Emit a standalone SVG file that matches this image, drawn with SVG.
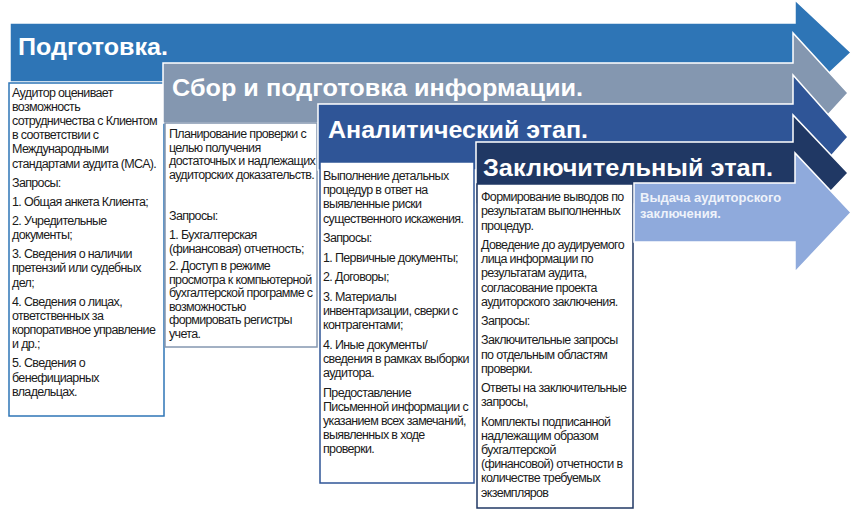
<svg xmlns="http://www.w3.org/2000/svg" width="856" height="523" viewBox="0 0 856 523">
<style>
.arrow{stroke:#ffffff;stroke-width:1.5;stroke-linejoin:miter}
.title{font-family:"Liberation Sans",Arial,sans-serif;font-weight:bold;fill:#ffffff;font-size:24px}
.box{fill:#ffffff;stroke-width:1.5}
.t{font-family:"Liberation Sans",Arial,sans-serif;font-size:12.5px;fill:#1a1a1a;letter-spacing:-0.65px}
.out{font-family:"Liberation Sans",Arial,sans-serif;font-weight:bold;font-size:13px;fill:#eef2fa}
</style>
<rect width="856" height="523" fill="#ffffff"/>
<g id="connectors"></g>
<g id="stage1">
<polygon class="arrow" fill="#2E75B6" points="10,23 795,23 795,0 851,52.5 795,105 795,82 10,82"/>
<text class="title" x="18" y="55" textLength="150" lengthAdjust="spacingAndGlyphs">Подготовка.</text>
</g>
<g id="box1">
<rect class="box" stroke="#2E75B6" x="9" y="83" width="155" height="333"/>
<text class="t" x="12">
<tspan x="12" y="97">Аудитор оценивает</tspan>
<tspan x="12" y="111">возможность</tspan>
<tspan x="12" y="125">сотрудничества с Клиентом</tspan>
<tspan x="12" y="139">в соответствии  с</tspan>
<tspan x="12" y="153">Международными</tspan>
<tspan x="12" y="168">стандартами аудита (МСА).</tspan>
<tspan x="12" y="187">Запросы:</tspan>
<tspan x="12" y="206">1. Общая анкета Клиента;</tspan>
<tspan x="12" y="225">2. Учредительные</tspan>
<tspan x="12" y="239">документы;</tspan>
<tspan x="12" y="258">3. Сведения о наличии</tspan>
<tspan x="12" y="272">претензий или судебных</tspan>
<tspan x="12" y="287">дел;</tspan>
<tspan x="12" y="306">4. Сведения о лицах,</tspan>
<tspan x="12" y="320">ответственных  за</tspan>
<tspan x="12" y="334">корпоративное управление</tspan>
<tspan x="12" y="348">и др.;</tspan>
<tspan x="12" y="367">5. Сведения о</tspan>
<tspan x="12" y="382">бенефициарных</tspan>
<tspan x="12" y="396">владельцах.</tspan>
</text>
</g>
<g id="stage2">
<polygon class="arrow" fill="#8497B0" points="163,63 793,63 793,33 848,93 793,153 793,123 163,123"/>
<text class="title" x="172" y="96" textLength="411" lengthAdjust="spacingAndGlyphs">Сбор и подготовка информации.</text>
</g>
<g id="box2">
<rect class="box" stroke="#8497B0" x="165" y="123" width="152" height="224"/>
<text class="t">
<tspan x="169" y="138">Планирование проверки с</tspan>
<tspan x="169" y="151.5">целью получения</tspan>
<tspan x="169" y="165">достаточных  и надлежащих</tspan>
<tspan x="169" y="178.5">аудиторских доказательств.</tspan>
<tspan x="169" y="220">Запросы:</tspan>
<tspan x="169" y="239">1. Бухгалтерская</tspan>
<tspan x="169" y="252.5">(финансовая) отчетность;</tspan>
<tspan x="169" y="270">2. Доступ в режиме</tspan>
<tspan x="169" y="283.5">просмотра к компьютерной</tspan>
<tspan x="169" y="297">бухгалтерской программе с</tspan>
<tspan x="169" y="310.5">возможностью</tspan>
<tspan x="169" y="324">формировать регистры</tspan>
<tspan x="169" y="337.5">учета.</tspan>
</text>
</g>
<g id="stage3">
<polygon class="arrow" fill="#2F5597" points="318,104 793,104 793,75 848,137 793,199 793,170 318,170"/>
<text class="title" x="328" y="138" textLength="260" lengthAdjust="spacingAndGlyphs">Аналитический этап.</text>
</g>
<g id="box3">
<rect class="box" stroke="#2F5597" x="320" y="162" width="154" height="321"/>
<text class="t">
<tspan x="323" y="180">Выполнение детальных</tspan>
<tspan x="323" y="194">процедур в ответ на</tspan>
<tspan x="323" y="208">выявленные риски</tspan>
<tspan x="323" y="222.5">существенного искажения.</tspan>
<tspan x="323" y="242">Запросы:</tspan>
<tspan x="323" y="261.5">1. Первичные документы;</tspan>
<tspan x="323" y="281">2. Договоры;</tspan>
<tspan x="323" y="300.5">3. Материалы</tspan>
<tspan x="323" y="314.5">инвентаризации, сверки с</tspan>
<tspan x="323" y="329">контрагентами;</tspan>
<tspan x="323" y="348.5">4. Иные документы/</tspan>
<tspan x="323" y="362.5">сведения в рамках выборки</tspan>
<tspan x="323" y="377">аудитора.</tspan>
<tspan x="323" y="396.5">Предоставление</tspan>
<tspan x="323" y="410.5">Письменной информации с</tspan>
<tspan x="323" y="425">указанием всех замечаний,</tspan>
<tspan x="323" y="439">выявленных в ходе</tspan>
<tspan x="323" y="453">проверки.</tspan>
</text>
</g>
<g id="stage4">
<polygon class="arrow" fill="#203864" points="476,142 793,142 793,115 848,173 793,231 793,204 476,204"/>
<text class="title" x="483" y="176" textLength="290" lengthAdjust="spacingAndGlyphs">Заключительный этап.</text>
</g>
<g id="box4">
<rect class="box" stroke="#203864" x="477" y="184" width="156" height="324"/>
<text class="t">
<tspan x="481" y="201">Формирование выводов по</tspan>
<tspan x="481" y="215">результатам выполненных</tspan>
<tspan x="481" y="229.5">процедур.</tspan>
<tspan x="481" y="248.5">Доведение до аудируемого</tspan>
<tspan x="481" y="263">лица информации по</tspan>
<tspan x="481" y="277">результатам аудита,</tspan>
<tspan x="481" y="291.5">согласование проекта</tspan>
<tspan x="481" y="305.5">аудиторского заключения.</tspan>
<tspan x="481" y="325">Запросы:</tspan>
<tspan x="481" y="344">Заключительные запросы</tspan>
<tspan x="481" y="358.5">по отдельным областям</tspan>
<tspan x="481" y="372.5">проверки.</tspan>
<tspan x="481" y="392">Ответы  на заключительные</tspan>
<tspan x="481" y="406">запросы,</tspan>
<tspan x="481" y="425.5">Комплекты подписанной</tspan>
<tspan x="481" y="439.5">надлежащим образом</tspan>
<tspan x="481" y="454">бухгалтерской</tspan>
<tspan x="481" y="468">(финансовой) отчетности в</tspan>
<tspan x="481" y="482">количестве требуемых</tspan>
<tspan x="481" y="496.5">экземпляров</tspan>
</text>
</g>
<g id="stage5">
<polygon class="arrow" fill="#8FAADC" points="634,183 795,183 795,153 851,212.5 795,272 795,242 634,242"/>
<text class="out"><tspan x="640" y="202">Выдача аудиторского</tspan><tspan x="640" y="218">заключения.</tspan></text>
</g>
</svg>
